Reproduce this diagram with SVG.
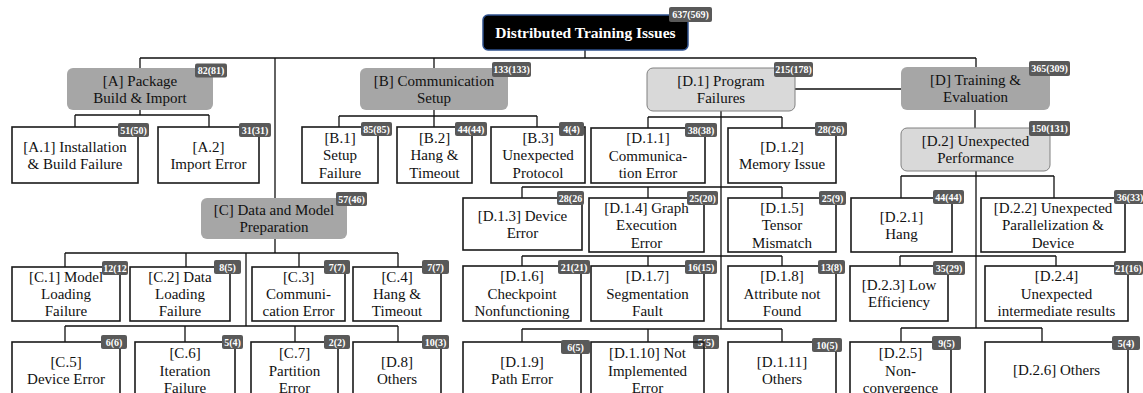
<svg xmlns="http://www.w3.org/2000/svg" width="1143" height="393" viewBox="0 0 1143 393">
<style>
.box{fill:#fff;stroke:#1a1a1a;stroke-width:1.6}
.cat{fill:#a6a6a6;stroke:none}
.sub{fill:#d9d9d9;stroke:#808080;stroke-width:1}
.root{fill:#000;stroke:#2f528f;stroke-width:1.5}
.lbl{font-family:"Liberation Serif","Times New Roman",serif;font-size:15px;fill:#111;text-anchor:middle}
.rt{font-family:"Liberation Serif","Times New Roman",serif;font-size:15.5px;font-weight:bold;fill:#fff;text-anchor:middle}
.bdg{fill:#595959;stroke:none}
.bt{font-family:"Liberation Serif","Times New Roman",serif;font-size:10px;font-weight:bold;fill:#fff;text-anchor:middle}
.con{fill:none;stroke:#111;stroke-width:1.3}
</style>
<g id="connectors" class="con">
<path d="M585 50V58M140 58H976M140 58V68M275 58V198M434 58V68M976 58V67"/>
<path d="M140 110V115M75 115H209M75 115V127M209 115V127"/>
<path d="M434 110V116M339 116H537M339 116V127M434 116V127M537 116V127"/>
<path d="M795 89H901M721 111V329"/>
<path d="M648 117H782M648 117V128M782 117V128"/>
<path d="M522 187H782M522 187V198M648 187V198M782 187V198"/>
<path d="M522 256H782M522 256V266M648 256V266M782 256V266"/>
<path d="M522 329H782M522 329V342M648 329V342M782 329V342"/>
<path d="M975 110V128M976 171V328"/>
<path d="M901 176H1054M901 176V198M1054 176V198"/>
<path d="M900 256H1056M900 256V266M1056 256V266"/>
<path d="M901 328H1042M901 328V342M1042 328V342"/>
<path d="M275 239V253M65 253H398M65 253V267M186 253V267M299 253V267M398 253V267"/>
<path d="M246 253V326M65 326H398M65 326V342M185 326V342M295 326V342M398 326V342"/>
</g>
<g id="root"><rect class="root" x="483" y="15" width="205" height="35" rx="5"/><text class="rt" x="585.5" y="37.5">Distributed Training Issues</text><rect class="bdg" x="669" y="7" width="43" height="15" rx="2"/><text class="bt" x="690.5" y="18">637(569)</text></g>
<g id="A"><rect class="cat" x="67" y="68" width="146" height="42" rx="6"/><text class="lbl" x="140" y="85.5">[A] Package</text><text class="lbl" x="140" y="102.5">Build &amp; Import</text><rect class="bdg" x="195" y="63.5" width="32" height="14" rx="2"/><text class="bt" x="211" y="74">82(81)</text></g>
<g id="A1"><rect class="box" x="12" y="127" width="126" height="56"/><text class="lbl" x="75" y="151.5">[A.1] Installation</text><text class="lbl" x="75" y="168.5">&amp; Build Failure</text><rect class="bdg" x="118" y="123" width="31" height="14" rx="2"/><text class="bt" x="133.5" y="133.5">51(50)</text></g>
<g id="A2"><rect class="box" x="158" y="127" width="101" height="56"/><text class="lbl" x="208.5" y="151.5">[A.2]</text><text class="lbl" x="208.5" y="168.5">Import Error</text><rect class="bdg" x="239" y="123" width="32" height="14" rx="2"/><text class="bt" x="255" y="133.5">31(31)</text></g>
<g id="B"><rect class="cat" x="360" y="68" width="148" height="42" rx="6"/><text class="lbl" x="434" y="85.5">[B] Communication</text><text class="lbl" x="434" y="102.5">Setup</text><rect class="bdg" x="492" y="62" width="39" height="15" rx="2"/><text class="bt" x="511.5" y="73">133(133)</text></g>
<g id="B1"><rect class="box" x="302" y="127" width="76" height="56"/><text class="lbl" x="340" y="142.5">[B.1]</text><text class="lbl" x="340" y="160">Setup</text><text class="lbl" x="340" y="177.5">Failure</text><rect class="bdg" x="361" y="122" width="31" height="14" rx="2"/><text class="bt" x="376.5" y="132.5">85(85)</text></g>
<g id="B2"><rect class="box" x="397" y="127" width="75" height="56"/><text class="lbl" x="434.5" y="142.5">[B.2]</text><text class="lbl" x="434.5" y="160">Hang &amp;</text><text class="lbl" x="434.5" y="177.5">Timeout</text><rect class="bdg" x="455" y="122" width="32" height="14" rx="2"/><text class="bt" x="471" y="132.5">44(44)</text></g>
<g id="B3"><rect class="box" x="491" y="127" width="94" height="56"/><text class="lbl" x="538" y="142.5">[B.3]</text><text class="lbl" x="538" y="160">Unexpected</text><text class="lbl" x="538" y="177.5">Protocol</text><rect class="bdg" x="559" y="122" width="25" height="14" rx="2"/><text class="bt" x="571.5" y="132.5">4(4)</text></g>
<g id="D1"><rect class="sub" x="647" y="68" width="148" height="43" rx="6"/><text class="lbl" x="721" y="86">[D.1] Program</text><text class="lbl" x="721" y="103">Failures</text><rect class="bdg" x="774" y="62" width="39" height="15" rx="2"/><text class="bt" x="793.5" y="73">215(178)</text></g>
<g id="D11"><rect class="box" x="591" y="128" width="114" height="55"/><text class="lbl" x="648" y="143">[D.1.1]</text><text class="lbl" x="648" y="160.5">Communica-</text><text class="lbl" x="648" y="178">tion Error</text><rect class="bdg" x="685" y="123" width="32" height="14" rx="2"/><text class="bt" x="701" y="133.5">38(38)</text></g>
<g id="D12"><rect class="box" x="728" y="128" width="108" height="55"/><text class="lbl" x="782" y="152">[D.1.2]</text><text class="lbl" x="782" y="169">Memory Issue</text><rect class="bdg" x="815" y="122" width="32" height="14" rx="2"/><text class="bt" x="831" y="132.5">28(26)</text></g>
<g id="D13"><rect class="box" x="463" y="198" width="119" height="52"/><text class="lbl" x="522.5" y="220.5">[D.1.3] Device</text><text class="lbl" x="522.5" y="237.5">Error</text><rect class="bdg" x="557" y="191" width="27" height="14" rx="2"/><text class="bt" x="570.5" y="201.5">28(26</text></g>
<g id="D14"><rect class="box" x="589" y="198" width="115" height="54"/><text class="lbl" x="646.5" y="212.5">[D.1.4] Graph</text><text class="lbl" x="646.5" y="230">Execution</text><text class="lbl" x="646.5" y="247.5">Error</text><rect class="bdg" x="687" y="191" width="31" height="14" rx="2"/><text class="bt" x="702.5" y="201.5">25(20)</text></g>
<g id="D15"><rect class="box" x="728" y="198" width="108" height="54"/><text class="lbl" x="782" y="212.5">[D.1.5]</text><text class="lbl" x="782" y="230">Tensor</text><text class="lbl" x="782" y="247.5">Mismatch</text><rect class="bdg" x="819" y="191" width="27" height="14" rx="2"/><text class="bt" x="832.5" y="201.5">25(9)</text></g>
<g id="D16"><rect class="box" x="463" y="266" width="118" height="55"/><text class="lbl" x="522" y="281">[D.1.6]</text><text class="lbl" x="522" y="298.5">Checkpoint</text><text class="lbl" x="522" y="316">Nonfunctioning</text><rect class="bdg" x="558" y="260" width="32" height="14" rx="2"/><text class="bt" x="574" y="270.5">21(21)</text></g>
<g id="D17"><rect class="box" x="591" y="266" width="113" height="55"/><text class="lbl" x="647.5" y="281">[D.1.7]</text><text class="lbl" x="647.5" y="298.5">Segmentation</text><text class="lbl" x="647.5" y="316">Fault</text><rect class="bdg" x="685" y="260" width="32" height="14" rx="2"/><text class="bt" x="701" y="270.5">16(15)</text></g>
<g id="D18"><rect class="box" x="728" y="266" width="108" height="55"/><text class="lbl" x="782" y="281">[D.1.8]</text><text class="lbl" x="782" y="298.5">Attribute not</text><text class="lbl" x="782" y="316">Found</text><rect class="bdg" x="818" y="260" width="27" height="14" rx="2"/><text class="bt" x="831.5" y="270.5">13(8)</text></g>
<g id="D19"><rect class="box" x="463" y="342" width="118" height="56"/><text class="lbl" x="522" y="366.5">[D.1.9]</text><text class="lbl" x="522" y="383.5">Path Error</text><rect class="bdg" x="561" y="340" width="29" height="14" rx="2"/><text class="bt" x="575.5" y="350.5">6(5)</text></g>
<g id="D110"><rect x="591" y="342" width="113" height="56" fill="#fff"/><rect class="bdg" x="693" y="335" width="26" height="14" rx="2"/><text class="bt" x="706" y="345.5">5(5)</text><rect x="591" y="342" width="113" height="56" fill="none" stroke="#1a1a1a" stroke-width="1.6"/><text class="lbl" x="647.5" y="358">[D.1.10] Not</text><text class="lbl" x="647.5" y="375.5">Implemented</text><text class="lbl" x="647.5" y="393">Error</text></g>
<g id="D111"><rect class="box" x="728" y="342" width="108" height="56"/><text class="lbl" x="782" y="366.5">[D.1.11]</text><text class="lbl" x="782" y="383.5">Others</text><rect class="bdg" x="812" y="338" width="30" height="14" rx="2"/><text class="bt" x="827" y="348.5">10(5)</text></g>
<g id="D"><rect class="cat" x="901" y="67" width="149" height="43" rx="6"/><text class="lbl" x="975.5" y="85">[D] Training &amp;</text><text class="lbl" x="975.5" y="102">Evaluation</text><rect class="bdg" x="1029" y="61" width="41" height="15" rx="2"/><text class="bt" x="1049.5" y="72">365(309)</text></g>
<g id="D2"><rect class="sub" x="901" y="128" width="149" height="43" rx="6"/><text class="lbl" x="975.5" y="146">[D.2] Unexpected</text><text class="lbl" x="975.5" y="163">Performance</text><rect class="bdg" x="1029" y="121" width="41" height="15" rx="2"/><text class="bt" x="1049.5" y="132">150(131)</text></g>
<g id="D21"><rect class="box" x="851" y="198" width="101" height="54"/><text class="lbl" x="901.5" y="221.5">[D.2.1]</text><text class="lbl" x="901.5" y="238.5">Hang</text><rect class="bdg" x="933" y="190" width="31" height="14" rx="2"/><text class="bt" x="948.5" y="200.5">44(44)</text></g>
<g id="D22"><rect class="box" x="981" y="198" width="144" height="54"/><text class="lbl" x="1053" y="212.5">[D.2.2] Unexpected</text><text class="lbl" x="1053" y="230">Parallelization  &amp;</text><text class="lbl" x="1053" y="247.5">Device</text><rect class="bdg" x="1114" y="190" width="32" height="14" rx="2"/><text class="bt" x="1130" y="200.5">36(33)</text></g>
<g id="D23"><rect class="box" x="850" y="266" width="98" height="55"/><text class="lbl" x="899" y="289.5">[D.2.3] Low</text><text class="lbl" x="899" y="306.5">Efficiency</text><rect class="bdg" x="933" y="261" width="32" height="14" rx="2"/><text class="bt" x="949" y="271.5">35(29)</text></g>
<g id="D24"><rect class="box" x="985" y="266" width="143" height="55"/><text class="lbl" x="1056.5" y="281">[D.2.4]</text><text class="lbl" x="1056.5" y="298.5">Unexpected</text><text class="lbl" x="1056.5" y="316">intermediate  results</text><rect class="bdg" x="1114" y="261" width="29" height="14" rx="2"/><text class="bt" x="1128.5" y="271.5">21(16)</text></g>
<g id="D25"><rect class="box" x="850" y="342" width="101" height="56"/><text class="lbl" x="900.5" y="358">[D.2.5]</text><text class="lbl" x="900.5" y="375.5">Non-</text><text class="lbl" x="900.5" y="393">convergence</text><rect class="bdg" x="932" y="336" width="29" height="14" rx="2"/><text class="bt" x="946.5" y="346.5">9(5)</text></g>
<g id="D26"><rect class="box" x="985" y="342" width="143" height="56"/><text class="lbl" x="1056.5" y="375">[D.2.6] Others</text><rect class="bdg" x="1112" y="336" width="28" height="14" rx="2"/><text class="bt" x="1126" y="346.5">5(4)</text></g>
<g id="C"><rect class="cat" x="201" y="198" width="146" height="41" rx="6"/><text class="lbl" x="274" y="215">[C] Data and Model</text><text class="lbl" x="274" y="232">Preparation</text><rect class="bdg" x="336" y="192" width="31" height="14" rx="2"/><text class="bt" x="351.5" y="202.5">57(46)</text></g>
<g id="C1"><rect class="box" x="12" y="267" width="108" height="54"/><text class="lbl" x="66" y="282">[C.1] Model</text><text class="lbl" x="66" y="299">Loading</text><text class="lbl" x="66" y="316">Failure</text><rect class="bdg" x="102" y="261" width="26" height="14" rx="2"/><text class="bt" x="115" y="271.5">12(12</text></g>
<g id="C2"><rect class="box" x="130" y="267" width="100" height="54"/><text class="lbl" x="180" y="282">[C.2] Data</text><text class="lbl" x="180" y="299">Loading</text><text class="lbl" x="180" y="316">Failure</text><rect class="bdg" x="214" y="260" width="27" height="14" rx="2"/><text class="bt" x="227.5" y="270.5">8(5)</text></g>
<g id="C3"><rect class="box" x="252" y="267" width="93" height="54"/><text class="lbl" x="298.5" y="282">[C.3]</text><text class="lbl" x="298.5" y="299">Communi-</text><text class="lbl" x="298.5" y="316">cation  Error</text><rect class="bdg" x="324" y="260" width="26" height="14" rx="2"/><text class="bt" x="337" y="270.5">7(7)</text></g>
<g id="C4"><rect class="box" x="353" y="267" width="88" height="54"/><text class="lbl" x="397" y="282">[C.4]</text><text class="lbl" x="397" y="299">Hang &amp;</text><text class="lbl" x="397" y="316">Timeout</text><rect class="bdg" x="422" y="260" width="27" height="14" rx="2"/><text class="bt" x="435.5" y="270.5">7(7)</text></g>
<g id="C5"><rect class="box" x="12" y="342" width="108" height="56"/><text class="lbl" x="66" y="366.5">[C.5]</text><text class="lbl" x="66" y="383.5">Device Error</text><rect class="bdg" x="101" y="335" width="26" height="14" rx="2"/><text class="bt" x="114" y="345.5">6(6)</text></g>
<g id="C6"><rect class="box" x="135" y="342" width="100" height="56"/><text class="lbl" x="185" y="358">[C.6]</text><text class="lbl" x="185" y="375.5">Iteration</text><text class="lbl" x="185" y="393">Failure</text><rect class="bdg" x="222" y="335" width="21" height="14" rx="2"/><text class="bt" x="232.5" y="345.5">5(4)</text></g>
<g id="C7"><rect class="box" x="251" y="342" width="87" height="56"/><text class="lbl" x="294.5" y="358">[C.7]</text><text class="lbl" x="294.5" y="375.5">Partition</text><text class="lbl" x="294.5" y="393">Error</text><rect class="bdg" x="324" y="335" width="26" height="14" rx="2"/><text class="bt" x="337" y="345.5">2(2)</text></g>
<g id="D8"><rect class="box" x="353" y="342" width="88" height="56"/><text class="lbl" x="397" y="366.5">[D.8]</text><text class="lbl" x="397" y="383.5">Others</text><rect class="bdg" x="422" y="335" width="27" height="14" rx="2"/><text class="bt" x="435.5" y="345.5">10(3)</text></g>
</svg>
